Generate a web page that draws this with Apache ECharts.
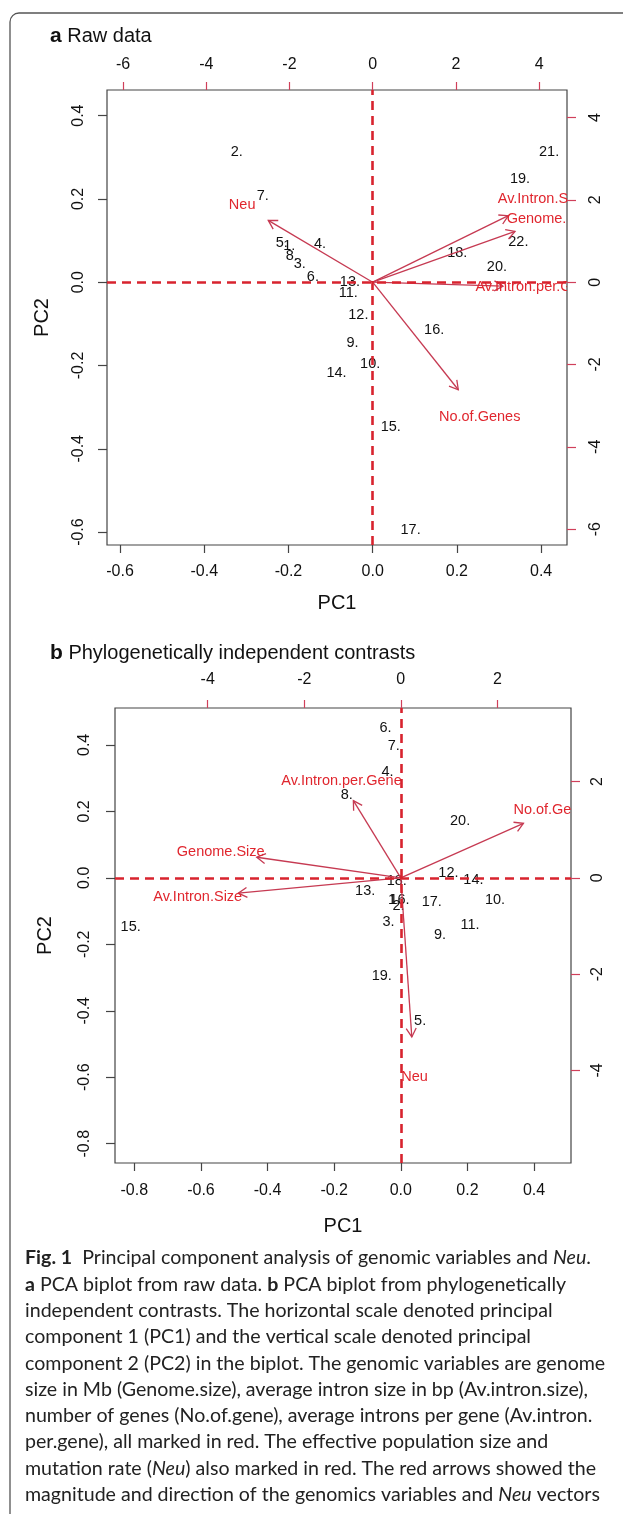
<!DOCTYPE html>
<html><head><meta charset="utf-8">
<script src="https://cdn.jsdelivr.net/npm/echarts@6/dist/echarts.min.js"></script>
<style>html,body{margin:0;padding:0;background:#fff}#c{width:623px;height:1514px}</style>
</head><body><div id="c"></div>
<script>
// ---------- Panel a: Raw data ----------
const obsLabelsA = ['1.','2.','3.','4.','5.','6.','7.','8.','9.','10.','11.','12.','13.','14.','15.','16.','17.','18.','19.','20.','21.','22.'];
const obsPC1A = [-0.198,-0.323,-0.173,-0.125,-0.216,-0.142,-0.261,-0.192,-0.048,-0.006,-0.058,-0.034,-0.054,-0.086,0.043,0.146,0.090,0.201,0.350,0.295,0.419,0.346];
const obsPC2A = [0.086,0.313,0.044,0.092,0.094,0.013,0.208,0.064,-0.146,-0.196,-0.026,-0.079,0.000,-0.218,-0.348,-0.114,-0.595,0.069,0.249,0.036,0.313,0.097];
const varNamesA = ['Neu','Av.Intron.Size','Genome.Size','Av.Intron.per.Gene','No.of.Genes'];
const varPC1A = [-3.137, 4.074, 4.276, 3.915, 2.572];
const varPC2A = [1.877, 2.020, 1.543, -0.120, -3.266];
const ticksPrimA = [-0.6,-0.4,-0.2,0,0.2,0.4];
const ticksSecA = [-6,-4,-2,0,2,4];

// ---------- Panel b: Phylogenetically independent contrasts ----------
const obsLabelsB = ['1.','2.','3.','4.','5.','6.','7.','8.','9.','10.','11.','12.','13.','14.','15.','16.','17.','18.','19.','20.'];
const obsPC1B = [-0.020,-0.007,-0.037,-0.040,0.058,-0.046,-0.021,-0.162,0.118,0.283,0.208,0.143,-0.107,0.218,-0.811,-0.004,0.093,-0.012,-0.057,0.178];
const obsPC2B = [-0.068,-0.084,-0.133,0.317,-0.431,0.452,0.397,0.249,-0.171,-0.068,-0.143,0.014,-0.040,-0.008,-0.148,-0.066,-0.073,-0.010,-0.296,0.170];
const varNamesB = ['Av.Intron.per.Gene','Genome.Size','Av.Intron.Size','No.of.Genes','Neu'];
const varPC1B = [-1.228, -3.730, -4.207, 3.176, 0.285];
const varPC2B = [2.003, 0.534, -0.399, 1.415, -4.130];
const ticksPrimB = [-0.8,-0.6,-0.4,-0.2,0,0.2,0.4];
const ticksSecB = [-4,-2,0,2];

const captionLines = [
  '{b|Fig. 1}  Principal component analysis of genomic variables and {i|Neu}.',
  '{b|a} PCA biplot from raw data. {b|b} PCA biplot from phylogenetically',
  'independent contrasts. The horizontal scale denoted principal',
  'component 1 (PC1) and the vertical scale denoted principal',
  'component 2 (PC2) in the biplot. The genomic variables are genome',
  'size in Mb (Genome.size), average intron size in bp (Av.intron.size),',
  'number of genes (No.of.gene), average introns per gene (Av.intron.',
  'per.gene), all marked in red. The effective population size and',
  'mutation rate ({i|Neu}) also marked in red. The red arrows showed the',
  'magnitude and direction of the genomics variables and {i|Neu} vectors'
];

// ---------- styling ----------
const FONT = '"Liberation Sans", Arial, sans-serif';
const CAPFONT = 'Lato, "Open Sans", sans-serif';
const CAPSIZE = 19.6;
const AXIS = '#444';
const TXT = '#111';
const DASH = '#D8232E';
const ARROW = '#C63A52';
const VARTXT = '#E0262E';
const REDTICK = '#D0405A';

const limA = [-0.631, 0.4615], scaleA = 10.12;
const limB = [-0.858, 0.511], scaleB = 6.9;

function pts(lbls, xs, ys) { return lbls.map((n,i)=>({name:n, value:[xs[i], ys[i]]})); }
function vars(names, xs, ys) { return names.map((n,i)=>({name:n, value:[xs[i], ys[i]]})); }
function fmt1(v){ return (Math.abs(v)<1e-9?0:v).toFixed(1); }

function primX(grid, lim, ticks, margin, nameGap) {
  return {type:'value', gridIndex:grid, position:'bottom', min:lim[0], max:lim[1],
    axisLine:{show:false, onZero:false}, splitLine:{show:false},
    axisTick:{show:true, customValues:ticks, length:8, lineStyle:{color:AXIS, width:1.2}},
    axisLabel:{customValues:ticks, formatter:fmt1, fontSize:16, color:TXT, margin:margin, fontFamily:FONT},
    name:'PC1', nameLocation:'middle', nameGap:nameGap, nameTextStyle:{fontSize:20, color:TXT, fontFamily:FONT}};
}
function secX(grid, lim, sc, ticks, margin) {
  return {type:'value', gridIndex:grid, position:'top', min:lim[0]*sc, max:lim[1]*sc,
    axisLine:{show:false, onZero:false}, splitLine:{show:false},
    axisTick:{show:true, customValues:ticks, length:8, lineStyle:{color:REDTICK, width:1.2}},
    axisLabel:{customValues:ticks, formatter:v=>String(v), fontSize:16, color:TXT, margin:margin, fontFamily:FONT}};
}
function primY(grid, lim, ticks, margin, nameGap) {
  return {type:'value', gridIndex:grid, position:'left', min:lim[0], max:lim[1],
    axisLine:{show:false, onZero:false}, splitLine:{show:false},
    axisTick:{show:true, customValues:ticks, length:9, lineStyle:{color:AXIS, width:1.2}},
    axisLabel:{customValues:ticks, formatter:fmt1, fontSize:16, color:TXT, margin:margin, rotate:90, fontFamily:FONT},
    name:'PC2', nameLocation:'middle', nameGap:nameGap, nameRotate:90, nameTextStyle:{fontSize:20, color:TXT, fontFamily:FONT}};
}
function secY(grid, lim, sc, ticks, margin) {
  return {type:'value', gridIndex:grid, position:'right', min:lim[0]*sc, max:lim[1]*sc,
    axisLine:{show:false, onZero:false}, splitLine:{show:false},
    axisTick:{show:true, customValues:ticks, length:9, lineStyle:{color:REDTICK, width:1.2}},
    axisLabel:{customValues:ticks, formatter:v=>String(v), fontSize:16, color:TXT, margin:margin, rotate:90, fontFamily:FONT}};
}

function arrowSeries(xi, yi, names, data) {
  return {type:'custom', xAxisIndex:xi, yAxisIndex:yi, clip:true, z:3, silent:true, animation:false,
    data:data,
    renderItem:function(params, api){
      const lx = api.value(0), ly = api.value(1);
      const o = api.coord([0,0]);
      const t = api.coord([lx*0.8, ly*0.8]);
      const l = api.coord([lx, ly]);
      const ang = Math.atan2(t[1]-o[1], t[0]-o[0]);
      const hl = 10, ha = Math.PI/6;
      const p1 = [t[0]-hl*Math.cos(ang-ha), t[1]-hl*Math.sin(ang-ha)];
      const p2 = [t[0]-hl*Math.cos(ang+ha), t[1]-hl*Math.sin(ang+ha)];
      return {type:'group', children:[
        {type:'line', shape:{x1:o[0],y1:o[1],x2:t[0],y2:t[1]}, style:{stroke:ARROW, lineWidth:1.3}},
        {type:'polyline', shape:{points:[p1,t,p2]}, style:{stroke:ARROW, fill:null, lineWidth:1.3}},
        {type:'text', x:l[0], y:l[1], style:{text:names[params.dataIndex], fill:VARTXT, fontSize:14.5, fontFamily:FONT, align:'center', verticalAlign:'middle'}}
      ]};
    }};
}
function pointSeries(xi, yi, data) {
  return {type:'scatter', xAxisIndex:xi, yAxisIndex:yi, symbolSize:0, silent:true, animation:false, z:2,
    itemStyle:{opacity:1},
    data:data,
    label:{show:true, position:'inside', formatter:'{b}', color:TXT, opacity:1, fontSize:14.5, fontFamily:FONT}};
}
function zeroLines(xi, yi) {
  return {type:'scatter', xAxisIndex:xi, yAxisIndex:yi, data:[], z:10, silent:true, animation:false,
    markLine:{silent:true, symbol:['none','none'], animation:false, label:{show:false},
      lineStyle:{color:DASH, width:2.6, type:[9,6]},
      data:[{xAxis:0},{yAxis:0}]}};
}

const capRich = {
  b:{fontWeight:'bold', fontSize:CAPSIZE, fontFamily:CAPFONT, fill:'#222'},
  i:{fontStyle:'italic', fontSize:CAPSIZE, fontFamily:CAPFONT, fill:'#222'}
};
const graphics = [
  {type:'rect', z:-1, silent:true, shape:{x:10, y:13, width:700, height:1600, r:9}, style:{fill:null, stroke:'#555', lineWidth:1.3}},
  {type:'text', x:50, y:36, silent:true, style:{text:'{b|a} Raw data', fontSize:20, fontFamily:FONT, fill:'#111', verticalAlign:'middle',
    rich:{b:{fontWeight:'bold', fontSize:21, fontFamily:FONT}}}},
  {type:'text', x:50, y:653, silent:true, style:{text:'{b|b} Phylogenetically independent contrasts', fontSize:20, fontFamily:FONT, fill:'#111', verticalAlign:'middle',
    rich:{b:{fontWeight:'bold', fontSize:21, fontFamily:FONT}}}}
];
captionLines.forEach((ln,i)=>{
  graphics.push({type:'text', x:25, y:1258 + i*26.3, silent:true,
    style:{text:ln, fontSize:CAPSIZE, fontFamily:CAPFONT, fill:'#222', verticalAlign:'middle', rich:capRich}});
});

const option = {
  animation:false,
  backgroundColor:'#fff',
  textStyle:{fontFamily:FONT},
  grid:[
    {left:107, top:90, width:460, height:455, show:true, borderColor:AXIS, borderWidth:1.2, backgroundColor:'transparent'},
    {left:115, top:708, width:456, height:455, show:true, borderColor:AXIS, borderWidth:1.2, backgroundColor:'transparent'}
  ],
  xAxis:[
    primX(0, limA, ticksPrimA, 19, 48),
    secX(0, limA, scaleA, ticksSecA, 17),
    primX(1, limB, ticksPrimB, 20, 53),
    secX(1, limB, scaleB, ticksSecB, 20)
  ],
  yAxis:[
    primY(0, limA, ticksPrimA, 20, 55),
    secY(0, limA, scaleA, ticksSecA, 21),
    primY(1, limB, ticksPrimB, 22, 60),
    secY(1, limB, scaleB, ticksSecB, 19)
  ],
  graphic:graphics,
  series:[
    pointSeries(0, 0, pts(obsLabelsA, obsPC1A, obsPC2A)),
    arrowSeries(1, 1, varNamesA, vars(varNamesA, varPC1A, varPC2A)),
    zeroLines(0, 0),
    pointSeries(2, 2, pts(obsLabelsB, obsPC1B, obsPC2B)),
    arrowSeries(3, 3, varNamesB, vars(varNamesB, varPC1B, varPC2B)),
    zeroLines(2, 2)
  ]
};
const chart = echarts.init(document.getElementById('c'));
chart.setOption(option);
</script>
</body></html>
